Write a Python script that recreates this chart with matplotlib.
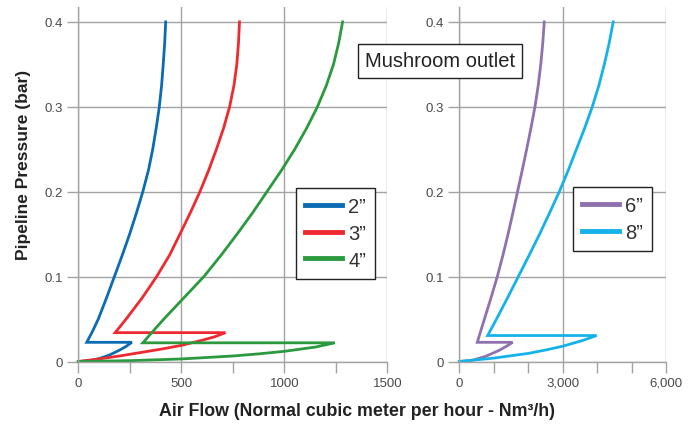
import matplotlib.pyplot as plt
from matplotlib.ticker import FixedLocator, FuncFormatter

# flow (Nm3/h) vs pipeline pressure (bar); each curve goes out along the lower
# branch, jumps back horizontally, then climbs the upper branch
flow_2in = [0, 50, 100, 150, 200, 230, 260,
            41, 68, 97, 137, 175, 213, 249, 282, 313, 340, 361, 378, 393, 404, 412, 419, 424]
pres_2in = [0, 0.0008, 0.0033, 0.0075, 0.0134, 0.0175, 0.0226,
            0.0226, 0.035, 0.05, 0.075, 0.1, 0.125, 0.15, 0.175, 0.2, 0.225, 0.25, 0.275, 0.3,
            0.325, 0.35, 0.375, 0.4]

flow_3in = [0, 100, 200, 300, 400, 500, 600, 660, 714,
            179, 232, 310, 380, 442, 493, 543, 590, 632, 670, 705, 734, 755, 769, 777, 782]
pres_3in = [0, 0.003, 0.0065, 0.0105, 0.0145, 0.019, 0.025, 0.029, 0.034,
            0.034, 0.05, 0.075, 0.1, 0.125, 0.15, 0.175, 0.2, 0.225, 0.25, 0.275, 0.3, 0.325,
            0.35, 0.375, 0.4]

flow_4in = [0, 250, 500, 750, 875, 1000, 1075, 1150, 1245,
            313, 360, 415, 512, 609, 692, 770, 845, 915, 985, 1050, 1108, 1160, 1203, 1238,
            1263, 1282]
pres_4in = [0, 0.001, 0.003, 0.0065, 0.009, 0.012, 0.0145, 0.017, 0.022,
            0.022, 0.035, 0.05, 0.075, 0.1, 0.125, 0.15, 0.175, 0.2, 0.225, 0.25, 0.275, 0.3,
            0.325, 0.35, 0.375, 0.4]

flow_6in = [0, 390, 760, 1150, 1350, 1549,
            522, 729, 920, 1103, 1265, 1415, 1555, 1690, 1825, 1955, 2080, 2196, 2290, 2365,
            2423, 2466]
pres_6in = [0, 0.0015, 0.006, 0.013, 0.0175, 0.0226,
            0.0226, 0.05, 0.075, 0.1, 0.125, 0.15, 0.175, 0.2, 0.225, 0.25, 0.275, 0.3, 0.325,
            0.35, 0.375, 0.4]

flow_8in = [0, 1000, 2000, 2500, 3000, 3600, 3986,
            823, 1080, 1400, 1712, 2025, 2330, 2620, 2902, 3160, 3400, 3640, 3860, 4050, 4210,
            4350, 4468]
pres_8in = [0, 0.004, 0.0095, 0.0135, 0.018, 0.025, 0.0306,
            0.0306, 0.05, 0.075, 0.1, 0.125, 0.15, 0.175, 0.2, 0.225, 0.25, 0.275, 0.3, 0.325,
            0.35, 0.375, 0.4]

left_labels = ["2\u201d", "3\u201d", "4\u201d"]
right_labels = ["6\u201d", "8\u201d"]
left_colors = ["#0b6cb4", "#ee2a31", "#2b9a3f"]
right_colors = ["#8f72ad", "#15b2e9"]

plt.rcParams["font.family"] = ["Liberation Sans", "DejaVu Sans"]
GRID = "#a3a3a3"
TICKTXT = "#4a4a4a"

fig = plt.figure(figsize=(6.99, 4.27), dpi=100)
ax1 = fig.add_axes([78.3 / 699, 64.5 / 427, 309.2 / 699, 354.5 / 427])
ax2 = fig.add_axes([459.3 / 699, 64.5 / 427, 206.7 / 699, 354.5 / 427])


def style_axis(ax, xmax, major, minor, fmt):
    ax.set_xlim(0, xmax)
    ax.set_ylim(0, 0.4176)
    ax.xaxis.set_major_locator(FixedLocator(major))
    ax.xaxis.set_minor_locator(FixedLocator(minor))
    ax.xaxis.set_major_formatter(FuncFormatter(fmt))
    ax.yaxis.set_major_locator(FixedLocator([0, 0.1, 0.2, 0.3, 0.4]))
    ax.yaxis.set_major_formatter(FuncFormatter(lambda v, p: "0" if v == 0 else f"{v:.1f}"))
    ax.grid(True, which="major", color=GRID, lw=1.0)
    ax.set_axisbelow(True)
    for side in ["top", "right"]:
        ax.spines[side].set_visible(False)
    for side in ["left", "bottom"]:
        ax.spines[side].set_color(GRID)
        ax.spines[side].set_linewidth(1.0)
    ax.tick_params(which="both", direction="out", length=8, width=1.0, color=GRID,
                   labelcolor=TICKTXT, labelsize=9.5, pad=3)


style_axis(ax1, 1500, [0, 500, 1000, 1500], [250, 750, 1250], lambda v, p: f"{v:.0f}")
style_axis(ax2, 6000, [0, 3000, 6000], [1000, 2000, 4000, 5000], lambda v, p: f"{v:,.0f}")

for fx, py, lab, col in zip([flow_2in, flow_3in, flow_4in], [pres_2in, pres_3in, pres_4in],
                            left_labels, left_colors):
    ax1.plot(fx, py, color=col, lw=2.0, label=lab, solid_joinstyle="miter", clip_on=False)

for fx, py, lab, col in zip([flow_6in, flow_8in], [pres_6in, pres_8in], right_labels, right_colors):
    ax2.plot(fx, py, color=col, lw=2.0, label=lab, solid_joinstyle="miter", clip_on=False)

for ax, anchor in [(ax1, (0.704, 0.489)), (ax2, (0.55, 0.492))]:
    leg = ax.legend(loc="upper left", bbox_to_anchor=anchor, fontsize=14.5, frameon=True,
                    fancybox=False, edgecolor="#222222", framealpha=1, handlelength=1.85,
                    handletextpad=0.3, labelspacing=0.38, borderpad=0.45, borderaxespad=0)
    leg.get_frame().set_linewidth(1.0)
    for h in leg.get_lines():
        h.set_linewidth(3.5)
    for t in leg.get_texts():
        t.set_color("#333333")

fig.text(440 / 699, 1 - 62 / 427, "Mushroom outlet", ha="center", va="center", fontsize=14.5,
         color="#222222",
         bbox=dict(boxstyle="square,pad=0.36", facecolor="white", edgecolor="#222222", lw=1.0))

fig.text(24 / 699, 1 - 165 / 427, "Pipeline Pressure (bar)", rotation=90, ha="center",
         va="center", fontsize=12.5, fontweight="bold", color="#222222")
fig.text(357 / 699, 1 - 412 / 427, "Air Flow (Normal cubic meter per hour - Nm\u00b3/h)",
         ha="center", va="center", fontsize=12.8, fontweight="bold", color="#222222")

fig.savefig("out.png", dpi=100)
